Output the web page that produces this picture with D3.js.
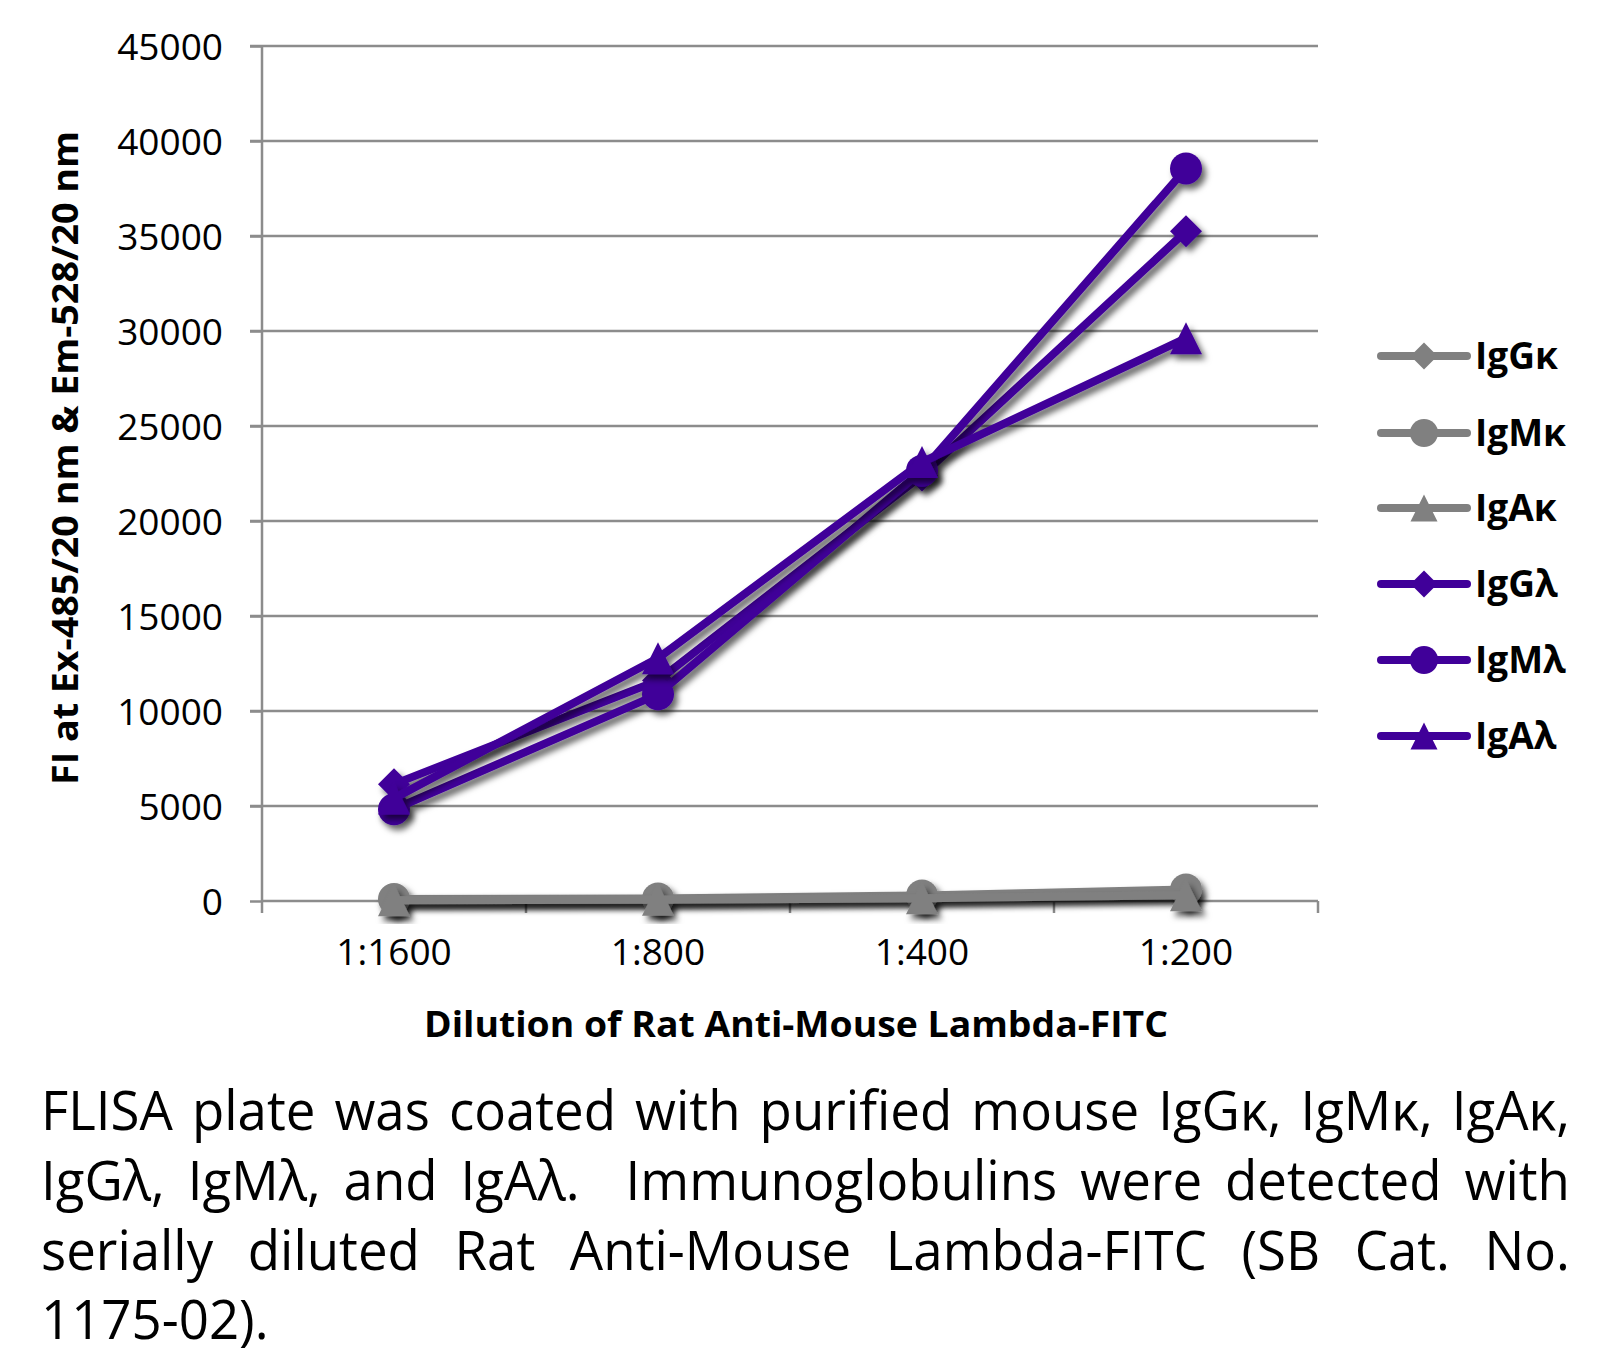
<!DOCTYPE html>
<html>
<head>
<meta charset="utf-8">
<script src="https://cdn.jsdelivr.net/npm/d3@7"></script>
<style>
  html, body { margin: 0; padding: 0; background: #fff; }
  svg { display: block; }
</style>
</head>
<body>
<svg id="chart" width="1609" height="1356"></svg>
<script>
// ---- data ----
const categories = ["1:1600", "1:800", "1:400", "1:200"];
const seriesNames = ["IgGκ", "IgMκ", "IgAκ", "IgGλ", "IgMλ", "IgAλ"];
const seriesShapes = ["diamond", "circle", "triangle", "diamond", "circle", "triangle"];
const seriesColors = ["#808080", "#808080", "#808080", "#400099", "#400099", "#400099"];
const IgGk = [70, 100, 200, 350];
const IgMk = [100, 130, 290, 600];
const IgAk = [40, 60, 140, 300];
const IgGl = [6150, 11600, 22400, 35250];
const IgMl = [4830, 10880, 22650, 38550];
const IgAl = [5400, 12780, 23100, 29620];
const seriesValues = [IgGk, IgMk, IgAk, IgGl, IgMl, IgAl];
const yTicks = [0, 5000, 10000, 15000, 20000, 25000, 30000, 35000, 40000, 45000];
const yTitle = "FI at Ex-485/20 nm & Em-528/20 nm";
const xTitle = "Dilution of Rat Anti-Mouse Lambda-FITC";
const captionLines = [
  "FLISA plate was coated with purified mouse IgGκ, IgMκ, IgAκ,",
  "IgGλ, IgMλ, and IgAλ.  Immunoglobulins were detected with",
  "serially diluted Rat Anti-Mouse Lambda-FITC (SB Cat. No.",
  "1175-02)."
];

// ---- layout ----
const svg = d3.select("#chart");
const plot = { left: 262, right: 1318, top: 46, bottom: 901 };
const x = d3.scaleBand().domain(categories).range([plot.left, plot.right]).padding(0);
const y = d3.scaleLinear().domain([0, 45000]).range([plot.bottom, plot.top]);
const gridColor = "#8c8c8c";
const FONT = "'Open Sans', 'DejaVu Sans', sans-serif";

const defs = svg.append("defs");
const f = defs.append("filter").attr("id", "shadow")
  .attr("x", "-20%").attr("y", "-20%").attr("width", "140%").attr("height", "140%");
f.append("feDropShadow").attr("dx", 4).attr("dy", 5).attr("stdDeviation", 3.2)
  .attr("flood-color", "#000").attr("flood-opacity", 0.6);

// gridlines
svg.append("g").selectAll("line").data(yTicks.filter(d => d > 0)).join("line")
  .attr("x1", plot.left - 12).attr("x2", plot.right)
  .attr("y1", d => y(d)).attr("y2", d => y(d))
  .attr("stroke", gridColor).attr("stroke-width", 2.5);

// y axis
const yAxis = d3.axisLeft(y).tickValues(yTicks).tickSize(12).tickPadding(27).tickFormat(d3.format("d"));
const gy = svg.append("g").attr("transform", `translate(${plot.left},0)`).call(yAxis);
gy.select(".domain").remove();
gy.append("line").attr("x1", 0).attr("x2", 0).attr("y1", plot.top).attr("y2", plot.bottom)
  .attr("stroke", gridColor).attr("stroke-width", 2.5);
gy.selectAll(".tick line").attr("stroke", gridColor).attr("stroke-width", 2.5);
gy.selectAll(".tick text").attr("font-family", FONT).attr("font-size", 37)
  .attr("fill", "#000").attr("dy", "0.36em");

// x axis
const boundaries = [0, 1, 2, 3, 4].map(i => plot.left + i * x.bandwidth());
const gx = svg.append("g");
gx.append("line").attr("x1", plot.left).attr("x2", plot.right)
  .attr("y1", plot.bottom).attr("y2", plot.bottom).attr("stroke", gridColor).attr("stroke-width", 2.5);
gx.selectAll("line.tk").data(boundaries).join("line").attr("class", "tk")
  .attr("x1", d => d).attr("x2", d => d).attr("y1", plot.bottom).attr("y2", plot.bottom + 12)
  .attr("stroke", gridColor).attr("stroke-width", 2.5);
gx.selectAll("text").data(categories).join("text")
  .attr("x", d => x(d) + x.bandwidth() / 2).attr("y", 965)
  .attr("text-anchor", "middle").attr("font-family", FONT).attr("font-size", 37).attr("fill", "#000")
  .text(d => d);

// axis titles
svg.append("text").attr("transform", "translate(78,458) rotate(-90)")
  .attr("text-anchor", "middle").attr("font-family", FONT).attr("font-weight", 700)
  .attr("font-size", 36).attr("textLength", 654).attr("lengthAdjust", "spacingAndGlyphs")
  .text(yTitle);
svg.append("text").attr("x", 796).attr("y", 1037)
  .attr("text-anchor", "middle").attr("font-family", FONT).attr("font-weight", 700)
  .attr("font-size", 36).attr("textLength", 744).attr("lengthAdjust", "spacingAndGlyphs")
  .text(xTitle);

// marker paths
function markerPath(shape, s) {
  if (shape === "diamond") return `M0,${-s}L${s},0L0,${s}L${-s},0Z`;
  if (shape === "circle") return `M${s},0A${s},${s} 0 1,1 ${-s},0A${s},${s} 0 1,1 ${s},0Z`;
  return `M0,${-s}L${s},${s}L${-s},${s}Z`;
}

// series
const line = d3.line().x((d, i) => x(categories[i]) + x.bandwidth() / 2).y(d => y(d));
seriesNames.forEach((name, si) => {
  const g = svg.append("g").attr("filter", "url(#shadow)");
  g.append("path").datum(seriesValues[si]).attr("d", line)
    .attr("fill", "none").attr("stroke", seriesColors[si]).attr("stroke-width", 8)
    .attr("stroke-linejoin", "round").attr("stroke-linecap", "round");
  g.selectAll("path.m").data(seriesValues[si]).join("path").attr("class", "m")
    .attr("transform", (d, i) => `translate(${x(categories[i]) + x.bandwidth() / 2},${y(d)})`)
    .attr("d", markerPath(seriesShapes[si], 16))
    .attr("fill", seriesColors[si]);
});

// legend
const legY = [356, 433, 508, 584, 660, 736];
const lg = svg.append("g");
seriesNames.forEach((name, si) => {
  const gy2 = legY[si];
  lg.append("line").attr("x1", 1381).attr("x2", 1467).attr("y1", gy2).attr("y2", gy2)
    .attr("stroke", seriesColors[si]).attr("stroke-width", 8).attr("stroke-linecap", "round");
  lg.append("path").attr("transform", `translate(1424,${gy2})`)
    .attr("d", markerPath(seriesShapes[si], seriesShapes[si] === "circle" ? 14 : 13.5))
    .attr("fill", seriesColors[si]);
  lg.append("text").attr("x", 1475).attr("y", gy2 + 13)
    .attr("font-family", FONT).attr("font-weight", 700).attr("font-size", 37).attr("fill", "#000")
    .text(name);
});

// caption (justified)
const capG = svg.append("g");
const capX0 = 41, capX1 = 1570, capBase = [1130, 1200, 1270, 1339];
const sx = 0.96;
captionLines.forEach((txt, li) => {
  const parts = txt.split(" ");
  // words with gap weights (double space counts as two)
  const words = [], weights = [];
  let pending = 0;
  parts.forEach((p, i) => {
    if (p === "") { pending += 1; return; }
    if (words.length) weights.push(1 + pending);
    pending = 0;
    words.push(p);
  });
  const justify = li < captionLines.length - 1;
  const t = capG.append("text").attr("font-family", FONT).attr("font-size", 55).attr("fill", "#000")
    .attr("transform", `translate(0,${capBase[li]}) scale(${sx},1)`);
  const spans = words.map(w => t.append("tspan").attr("y", 0).text(w));
  const widths = spans.map(s => s.node().getComputedTextLength());
  const total = d3.sum(widths);
  const avail = (capX1 - capX0) / sx;
  const unit = justify ? (avail - total) / d3.sum(weights) : 0.26 * 55;
  let cx = capX0 / sx;
  spans.forEach((s, i) => { s.attr("x", cx); cx += widths[i] + (i < weights.length ? unit * weights[i] : 0); });
});
</script>
</body>
</html>
